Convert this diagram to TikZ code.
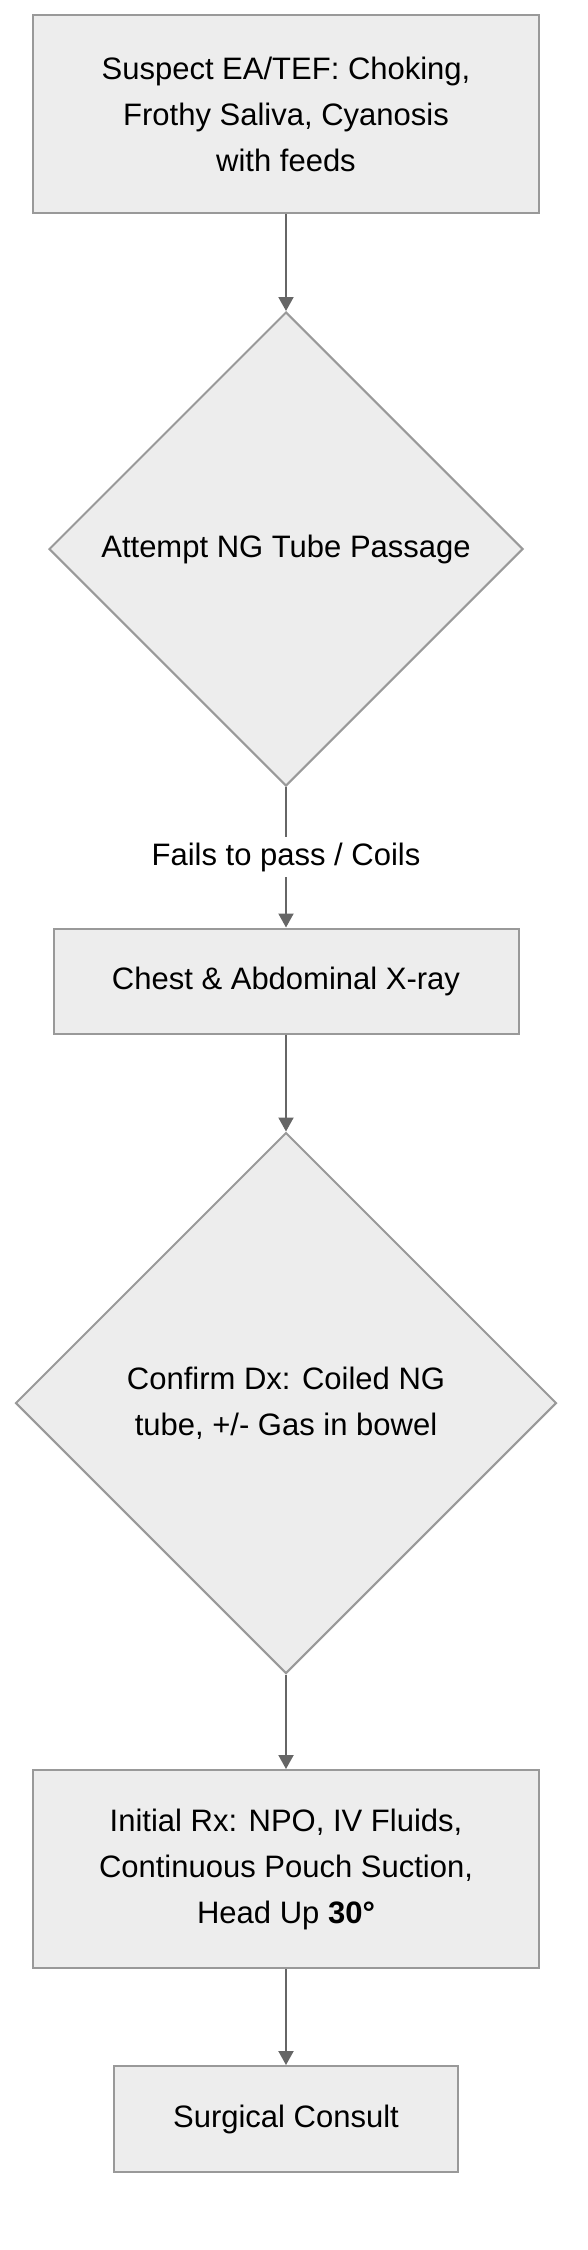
\documentclass[tikz,border=0pt]{standalone}
\usepackage{fontspec}
\setmainfont{Liberation Sans}
\usetikzlibrary{shapes.geometric,arrows.meta}
\definecolor{boxfill}{HTML}{EDEDED}
\definecolor{boxline}{HTML}{999999}
\definecolor{edgecol}{HTML}{666666}
\tikzset{
  base/.style={draw=boxline, fill=boxfill, line width=2pt, align=center,
    font=\fontsize{31}{46}\selectfont, text=black},
  procbox/.style={base, rectangle, inner sep=0pt},
  decision/.style={base, diamond, aspect=1, inner sep=0pt},
  flow/.style={draw=edgecol, line width=2pt, -{Triangle[length=14pt,width=15pt]}},
  edgelabel/.style={fill=white, inner xsep=2pt, inner ysep=5.5pt,
    font=\fontsize{31}{46}\selectfont, text=black}
}
\begin{document}
\begin{tikzpicture}[x=1pt,y=-1pt]
\useasboundingbox (0,0) rectangle (588,2250);
\node[procbox, minimum width=506pt, minimum height=198pt] (b1) at (286,114)
  {Suspect EA/TEF: Choking,\\Frothy Saliva, Cyanosis\\with feeds};
\node[decision, minimum width=474pt, minimum height=474pt] (d1) at (286,549)
  {Attempt NG Tube Passage};
\node[procbox, minimum width=465pt, minimum height=105pt] (b2) at (286,981)
  {Chest \& Abdominal X-ray};
\node[decision, minimum width=541pt, minimum height=541pt] (d2) at (286,1403)
  {Confirm Dx: Coiled NG\\tube, +/- Gas in bowel};
\node[procbox, minimum width=506pt, minimum height=198pt] (b3) at (286,1869)
  {Initial Rx: NPO, IV Fluids,\\Continuous Pouch Suction,\\Head Up \textbf{30°}};
\node[procbox, minimum width=344pt, minimum height=106pt] (b4) at (286,2119)
  {Surgical Consult};
\draw[flow] (b1.south) -- (d1.north);
\draw[flow] (d1.south) -- node[edgelabel] (l1) {Fails to pass / Coils} (b2.north);
\draw[flow] (b2.south) -- (d2.north);
\draw[flow] (d2.south) -- (b3.north);
\draw[flow] (b3.south) -- (b4.north);
\end{tikzpicture}
\end{document}
